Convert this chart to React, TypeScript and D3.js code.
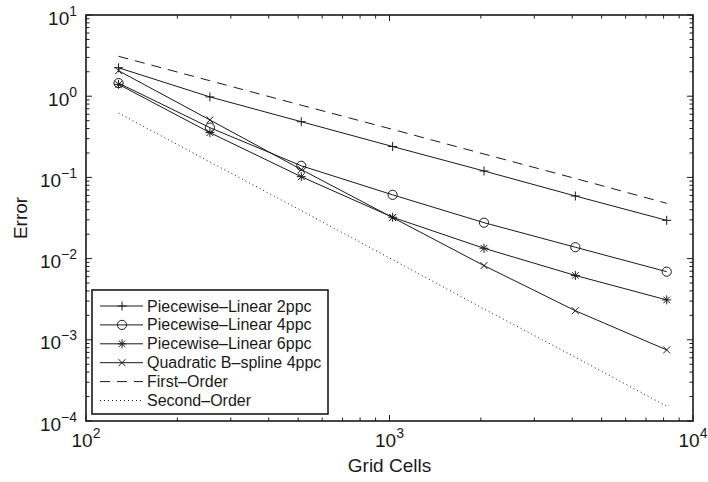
import React from 'react';
import * as d3 from 'd3';

const gridCells = [128, 256, 512, 1024, 2048, 4096, 8192];
const pl2 = [2.24, 0.98, 0.485, 0.24, 0.12, 0.059, 0.0296];
const pl4 = [1.45, 0.41, 0.139, 0.061, 0.0277, 0.0138, 0.0069];
const pl6 = [1.4, 0.356, 0.102, 0.0323, 0.0134, 0.0062, 0.0031];
const quad = [2.06, 0.51, 0.125, 0.032, 0.0082, 0.00228, 0.00075];
const firstOrder = [3.1, 1.55, 0.775, 0.39, 0.194, 0.097, 0.048];
const secondOrder = [0.62, 0.155, 0.039, 0.0097, 0.0024, 0.00061, 0.000152];

const xTickExps = [2, 3, 4];
const yTickExps = [1, 0, -1, -2, -3, -4];
const legendLabels = [
  'Piecewise\u2013Linear 2ppc',
  'Piecewise\u2013Linear 4ppc',
  'Piecewise\u2013Linear 6ppc',
  'Quadratic B\u2013spline 4ppc',
  'First\u2013Order',
  'Second\u2013Order',
];
const seriesList = [pl2, pl4, pl6, quad, firstOrder, secondOrder];
const markerTypes = ['plus', 'circle', 'star', 'x', 'none', 'none'];
const dashTypes = [null, null, null, null, '10,7', '1,3'];

const W = 708;
const H = 482;
const L = 86, R = 693, T = 15, B = 421;
const INK = '#1a1a1a';
const FONT = '"Liberation Sans", Arial, Helvetica, sans-serif';

function Marker({ type, cx, cy }: { type: string; cx: number; cy: number }) {
  const s = 4.5;
  if (type === 'plus') {
    return (
      <g stroke={INK} strokeWidth={1}>
        <line x1={cx - s} y1={cy} x2={cx + s} y2={cy} />
        <line x1={cx} y1={cy - s} x2={cx} y2={cy + s} />
      </g>
    );
  }
  if (type === 'circle') {
    return <circle cx={cx} cy={cy} r={4.6} fill="none" stroke={INK} strokeWidth={1} />;
  }
  if (type === 'star') {
    const d = 3.3;
    return (
      <g stroke={INK} strokeWidth={1}>
        <line x1={cx - s} y1={cy} x2={cx + s} y2={cy} />
        <line x1={cx} y1={cy - s} x2={cx} y2={cy + s} />
        <line x1={cx - d} y1={cy - d} x2={cx + d} y2={cy + d} />
        <line x1={cx - d} y1={cy + d} x2={cx + d} y2={cy - d} />
      </g>
    );
  }
  if (type === 'x') {
    const d = 3.5;
    return (
      <g stroke={INK} strokeWidth={1}>
        <line x1={cx - d} y1={cy - d} x2={cx + d} y2={cy + d} />
        <line x1={cx - d} y1={cy + d} x2={cx + d} y2={cy - d} />
      </g>
    );
  }
  return null;
}

export default function App() {
  const x = d3.scaleLog().domain([100, 10000]).range([L, R]);
  const y = d3.scaleLog().domain([1e-4, 10]).range([B, T]);
  const line = d3
    .line<number>()
    .x((_, i) => x(gridCells[i]))
    .y((d) => y(d));

  const xMinor: number[] = [];
  for (let e = 2; e < 4; e++) for (let m = 2; m <= 9; m++) xMinor.push(m * Math.pow(10, e));
  const yMinor: number[] = [];
  for (let e = -4; e < 1; e++) for (let m = 2; m <= 9; m++) yMinor.push(m * Math.pow(10, e));

  const majLen = 6;
  const minLen = 3.5;

  const legX = 92, legY = 290, legW = 236, legH = 124;
  const rowY0 = 306, rowStep = 18.9;

  return (
    <svg
      width={W}
      height={H}
      style={{ position: 'absolute', left: 0, top: 0, background: '#fff' }}
      fontFamily={FONT}
    >
      <rect x={0} y={0} width={W} height={H} fill="#fff" />
      {/* ticks */}
      <g stroke={INK} strokeWidth={1}>
        {xTickExps.map((e) => {
          const px = x(Math.pow(10, e));
          return (
            <g key={'xt' + e}>
              <line x1={px} y1={B} x2={px} y2={B - majLen} />
              <line x1={px} y1={T} x2={px} y2={T + majLen} />
            </g>
          );
        })}
        {xMinor.map((v) => {
          const px = x(v);
          return (
            <g key={'xm' + v}>
              <line x1={px} y1={B} x2={px} y2={B - minLen} />
              <line x1={px} y1={T} x2={px} y2={T + minLen} />
            </g>
          );
        })}
        {yTickExps.map((e) => {
          const py = y(Math.pow(10, e));
          return (
            <g key={'yt' + e}>
              <line x1={L} y1={py} x2={L + majLen} y2={py} />
              <line x1={R} y1={py} x2={R - majLen} y2={py} />
            </g>
          );
        })}
        {yMinor.map((v) => {
          const py = y(v);
          return (
            <g key={'ym' + v}>
              <line x1={L} y1={py} x2={L + minLen} y2={py} />
              <line x1={R} y1={py} x2={R - minLen} y2={py} />
            </g>
          );
        })}
      </g>

      {/* series */}
      {seriesList.map((s, k) => (
        <g key={'s' + k}>
          <path
            d={line(s) || ''}
            fill="none"
            stroke={INK}
            strokeWidth={1}
            strokeDasharray={dashTypes[k] || undefined}
          />
          {markerTypes[k] !== 'none' &&
            s.map((v, i) => <Marker key={i} type={markerTypes[k]} cx={x(gridCells[i])} cy={y(v)} />)}
        </g>
      ))}

      {/* frame */}
      <rect x={L} y={T} width={R - L} height={B - T} fill="none" stroke={INK} strokeWidth={1.6} />

      {/* tick labels */}
      {yTickExps.map((e) => {
        const py = y(Math.pow(10, e));
        return (
          <text key={'yl' + e} x={77} y={py + 9.5} textAnchor="end" fontSize={19} fill={INK}>
            <tspan>10</tspan>
            <tspan dy={-9} fontSize={14}>
              {e < 0 ? '\u2212' + Math.abs(e) : String(e)}
            </tspan>
          </text>
        );
      })}
      {xTickExps.map((e) => {
        const px = x(Math.pow(10, e));
        return (
          <text key={'xl' + e} x={px} y={447} textAnchor="middle" fontSize={19} fill={INK}>
            <tspan>10</tspan>
            <tspan dy={-9} fontSize={14}>
              {String(e)}
            </tspan>
          </text>
        );
      })}

      {/* axis labels */}
      <text x={(L + R) / 2} y={472} textAnchor="middle" fontSize={19} fill={INK}>
        Grid Cells
      </text>
      <text
        transform={`translate(${27},${(T + B) / 2}) rotate(-90)`}
        textAnchor="middle"
        fontSize={19}
        fill={INK}
      >
        Error
      </text>

      {/* legend */}
      <rect x={legX} y={legY} width={legW} height={legH} fill="#fff" stroke={INK} strokeWidth={1.6} />
      {legendLabels.map((lab, k) => {
        const ry = rowY0 + k * rowStep;
        return (
          <g key={'lg' + k}>
            <line
              x1={100}
              y1={ry}
              x2={143}
              y2={ry}
              stroke={INK}
              strokeWidth={1}
              strokeDasharray={dashTypes[k] || undefined}
            />
            {markerTypes[k] !== 'none' && <Marker type={markerTypes[k]} cx={122} cy={ry} />}
            <text x={147} y={ry} dominantBaseline="central" fontSize={16} fill={INK}>
              {lab}
            </text>
          </g>
        );
      })}
    </svg>
  );
}
